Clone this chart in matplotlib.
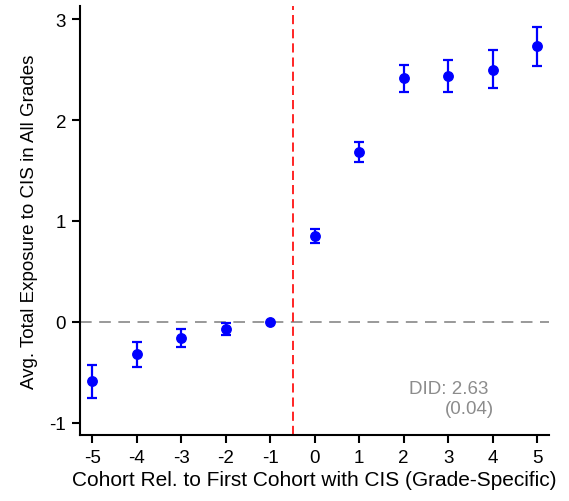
import matplotlib.pyplot as plt

plt.rcParams['font.family'] = ['Liberation Sans', 'DejaVu Sans']

# Event-time estimates
cohort = [-5, -4, -3, -2, -1, 0, 1, 2, 3, 4, 5]
coef = [-0.59, -0.32, -0.16, -0.07, 0.0, 0.85, 1.68, 2.42, 2.44, 2.50, 2.73]
ci_low = [-0.755, -0.45, -0.25, -0.13, 0.0, 0.78, 1.58, 2.28, 2.28, 2.32, 2.54]
ci_high = [-0.43, -0.20, -0.075, -0.016, 0.0, 0.92, 1.78, 2.55, 2.59, 2.69, 2.92]

did_text = "DID: 2.63"
did_se = "(0.04)"

fig = plt.figure(figsize=(5.69, 5.02), dpi=100)
ax = fig.add_axes([0.1406, 0.132, 0.8244, 0.854])

err_lo = [c - lo for c, lo in zip(coef, ci_low)]
err_hi = [hi - c for c, hi in zip(coef, ci_high)]
# no error bar drawn for the reference cohort
for i, c in enumerate(cohort):
    if ci_low[i] != ci_high[i]:
        ax.errorbar(c, coef[i], yerr=[[err_lo[i]], [err_hi[i]]], fmt='none',
                    ecolor='blue', elinewidth=1.6, capsize=3.5, capthick=1.6)
ax.plot(cohort, coef, 'o', color='blue', markersize=6.8, linestyle='none', zorder=3)

ax.axhline(0, color='#888888', linestyle=(0, (7, 4.5)), linewidth=1.2, zorder=1)
ax.axvline(-0.5, color='red', linestyle=(0, (5.5, 3)), linewidth=1.2, zorder=1)

ax.text(3.91, -0.66, did_text, ha='right', va='center', color='#8c8c8c', fontsize=13.5)
ax.text(4.02, -0.86, did_se, ha='right', va='center', color='#8c8c8c', fontsize=13.5)

ax.set_xlim(-5.28, 5.27)
ax.set_ylim(-1.12, 3.13)
ax.set_xticks(cohort)
ax.set_yticks([-1, 0, 1, 2, 3])
ax.set_yticklabels(['-1', '0', '1', '2', '3'])
ax.set_xticklabels([str(c) for c in cohort])

for s in ['top', 'right']:
    ax.spines[s].set_visible(False)
for s in ['left', 'bottom']:
    ax.spines[s].set_linewidth(1.5)
ax.tick_params(direction='out', length=6, width=1.5, labelsize=13.5, pad=4)

ax.set_xlabel("Cohort Rel. to First Cohort with CIS (Grade-Specific)", fontsize=15, labelpad=3)
ax.set_ylabel("Avg. Total Exposure to CIS in All Grades", fontsize=13.5, labelpad=8)

fig.savefig("out.png", dpi=100)
